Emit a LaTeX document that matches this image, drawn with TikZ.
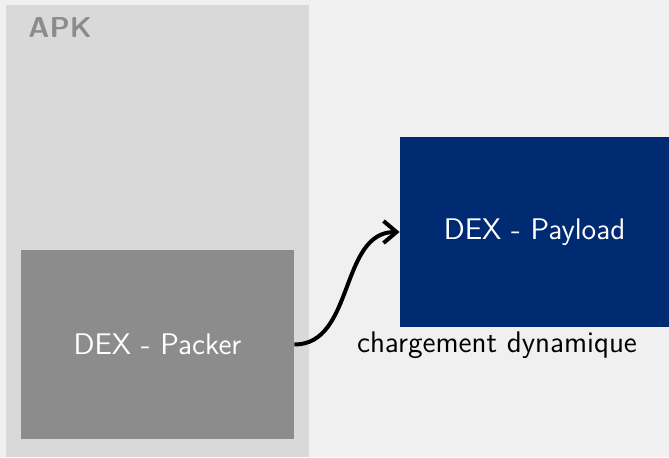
\documentclass[tikz,border=0pt]{standalone}
\usetikzlibrary{arrows.meta}
\definecolor{bg}{HTML}{F0F0F0}
\definecolor{apkgray}{HTML}{D9D9D9}
\definecolor{apklabel}{HTML}{8C8C8C}
\definecolor{packergray}{HTML}{8C8C8C}
\definecolor{payloadblue}{HTML}{002B73}
\begin{document}
\begin{tikzpicture}[x=0.5pt,y=-0.5pt,
  font=\sffamily\fontsize{14.9}{18}\selectfont,
  dexbox/.style={rectangle,inner sep=0pt,text=white},
  loadarrow/.style={line width=2pt,-{Straight Barb[length=6.5pt,width=11pt]}}]
  % canvas
  \fill[bg] (0,0) rectangle (669,457);
  \useasboundingbox (0,0) rectangle (669,457);
  % APK container
  \fill[apkgray] (6,5) rectangle (309,457);
  \node[anchor=north west,text=apklabel,font=\sffamily\bfseries\fontsize{14.4}{17}\selectfont,inner sep=0pt] (apk) at (28,17) {APK};
  % dex files
  \node[dexbox,fill=packergray,minimum width=136.5pt,minimum height=94.5pt] (packer) at (157.5,344.5) {DEX - Packer};
  \node[dexbox,fill=payloadblue,minimum width=134.5pt,minimum height=95pt] (payload) at (534.5,232) {DEX - Payload};
  % dynamic loading
  \draw[loadarrow] (packer.east) to[out=0,in=180] (payload.west);
  \node[anchor=center] (lbl) at (497,345) {chargement dynamique};
\end{tikzpicture}
\end{document}
